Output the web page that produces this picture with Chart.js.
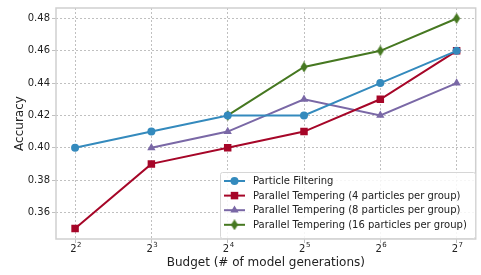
<!DOCTYPE html>
<html>
<head>
<meta charset="utf-8">
<script src="https://cdn.jsdelivr.net/npm/chart.js@4/dist/chart.umd.min.js"></script>
<style>
  html, body { margin: 0; padding: 0; background: #fff; }
  #wrap { width: 481px; height: 275px; }
</style>
</head>
<body>
<div id="wrap"><canvas id="chart"></canvas></div>
<script>
// data (x = log2 of budget)
const budgetsLog2 = [2, 3, 4, 5, 6, 7];
const particleFiltering = [0.40, 0.41, 0.42, 0.42, 0.44, 0.46];
const parallelT4 = [0.35, 0.39, 0.40, 0.41, 0.43, 0.46];
const parallelT8 = [null, 0.40, 0.41, 0.43, 0.42, 0.44];
const parallelT16 = [null, null, 0.42, 0.45, 0.46, 0.48];
const yTicks = [0.36, 0.38, 0.40, 0.42, 0.44, 0.46, 0.48];
const xTicks = [2, 3, 4, 5, 6, 7];

const FONT = "'DejaVu Sans', sans-serif";

function toPoints(vals) {
    return budgetsLog2.map((x, i) => ({ x: x, y: vals[i] })).filter(p => p.y !== null);
}

// thin diamond marker like matplotlib 'd'
function thinDiamond(color) {
    const c = document.createElement('canvas');
    c.width = 8; c.height = 11;
    const g = c.getContext('2d');
    g.fillStyle = color;
    g.beginPath();
    g.moveTo(4, 0); g.lineTo(7.5, 5.5); g.lineTo(4, 11); g.lineTo(0.5, 5.5);
    g.closePath();
    g.fill();
    return c;
}

const series = [
    { label: 'Particle Filtering', data: particleFiltering, color: '#348ABD', style: 'circle', r: 4 },
    { label: 'Parallel Tempering (4 particles per group)', data: parallelT4, color: '#A60628', style: 'rect', r: 5.3 },
    { label: 'Parallel Tempering (8 particles per group)', data: parallelT8, color: '#7A68A6', style: 'triangle', r: 4.8 },
    { label: 'Parallel Tempering (16 particles per group)', data: parallelT16, color: '#467821', style: 'diamond', r: 5 },
];

const datasets = series.map(s => ({
    label: s.label,
    data: toPoints(s.data),
    borderColor: s.color,
    backgroundColor: s.color,
    borderWidth: 2,
    pointStyle: s.style === 'diamond' ? thinDiamond(s.color) : s.style,
    pointRadius: s.r,
    pointBorderWidth: 0,
    tension: 0,
}));

const framePlugin = {
    id: 'frame',
    beforeDatasetsDraw(chart) {
        const a = chart.chartArea, ctx = chart.ctx;
        ctx.save();
        ctx.strokeStyle = '#cfcfcf';
        ctx.lineWidth = 1.5;
        ctx.strokeRect(a.left, a.top, a.right - a.left, a.bottom - a.top);
        ctx.restore();
    },
};

// x tick labels as 2 with a raised exponent
const powLabels = {
    id: 'powLabels',
    afterDraw(chart) {
        const ctx = chart.ctx, xs = chart.scales.x;
        ctx.save();
        ctx.fillStyle = '#222';
        ctx.textBaseline = 'alphabetic';
        xTicks.forEach(v => {
            const px = xs.getPixelForValue(v);
            ctx.font = '10px ' + FONT;
            const wb = ctx.measureText('2').width;
            ctx.font = '7px ' + FONT;
            const we = ctx.measureText(String(v)).width;
            const left = px - (wb + we) / 2 + 0.5;
            ctx.font = '10px ' + FONT;
            ctx.fillText('2', left, 252);
            ctx.font = '7px ' + FONT;
            ctx.fillText(String(v), left + wb + 0.5, 247);
        });
        ctx.restore();
    },
};

const legendPlugin = {
    id: 'boxLegend',
    afterDraw(chart) {
        const ctx = chart.ctx;
        const x0 = 220, y0 = 172, w = 255, h = 66;
        ctx.save();
        ctx.fillStyle = 'rgba(255,255,255,0.85)';
        ctx.strokeStyle = '#d6d6d6';
        ctx.lineWidth = 1;
        ctx.beginPath();
        ctx.roundRect(x0 + 0.5, y0 + 0.5, w, h, 2);
        ctx.fill();
        ctx.stroke();
        ctx.font = '10px ' + FONT;
        ctx.textBaseline = 'middle';
        series.forEach((s, i) => {
            const y = y0 + 9 + i * 14.6;
            ctx.strokeStyle = s.color;
            ctx.lineWidth = 2;
            ctx.beginPath();
            ctx.moveTo(224, y); ctx.lineTo(245, y);
            ctx.stroke();
            ctx.fillStyle = s.color;
            Chart.helpers.drawPoint(ctx, {
                pointStyle: datasets[i].pointStyle, radius: s.r, rotation: 0, borderWidth: 0
            }, 234.5, y);
            ctx.fillStyle = '#222';
            ctx.fillText(s.label, 253, y + 0.5);
        });
        ctx.restore();
    },
};

new Chart(document.getElementById('chart'), {
    type: 'line',
    data: { datasets: datasets },
    plugins: [framePlugin, powLabels, legendPlugin],
    options: {
        responsive: true,
        maintainAspectRatio: false,
        animation: false,
        layout: { padding: { top: 3, right: 4, left: 0, bottom: 0 } },
        plugins: { legend: { display: false }, tooltip: { enabled: false } },
        scales: {
            x: {
                type: 'linear',
                min: 1.75,
                max: 7.25,
                afterBuildTicks: (axis) => { axis.ticks = xTicks.map(v => ({ value: v })); },
                afterFit: (axis) => { axis.height = 36; },
                border: { display: false, dash: [2, 2] },
                grid: { color: '#b0b0b0', lineWidth: 0.8, tickLength: 4, tickBorderDash: [] },
                ticks: { display: false },
                title: {
                    display: true,
                    text: 'Budget (# of model generations)',
                    color: '#222',
                    font: { family: FONT, size: 12 },
                    padding: { top: 2, bottom: 5 },
                },
            },
            y: {
                min: 0.3435,
                max: 0.4865,
                afterBuildTicks: (axis) => { axis.ticks = yTicks.map(v => ({ value: v })); },
                afterFit: (axis) => { axis.width = 56; },
                border: { display: false, dash: [2, 2] },
                grid: { color: '#b0b0b0', lineWidth: 0.8, tickLength: 4, tickBorderDash: [] },
                ticks: {
                    color: '#222',
                    font: { family: FONT, size: 10 },
                    padding: 2,
                    callback: (v) => v.toFixed(2),
                },
                title: {
                    display: true,
                    text: 'Accuracy',
                    color: '#222',
                    font: { family: FONT, size: 12 },
                    padding: { top: 13, bottom: 4 },
                },
            },
        },
    },
});
</script>
</body>
</html>
